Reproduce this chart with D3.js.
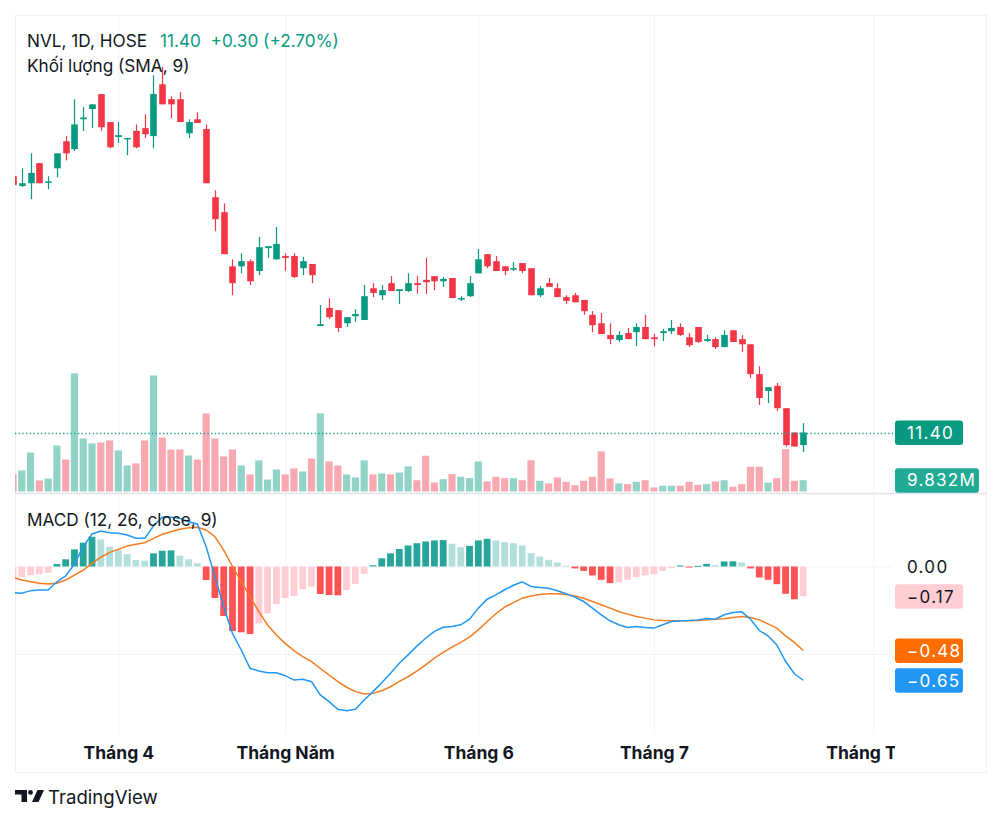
<!DOCTYPE html>
<html>
<head>
<meta charset="utf-8">
<script src="https://cdn.jsdelivr.net/npm/d3@7"></script>
<style>
  body { margin: 0; background: #fff; }
  svg { display: block; font-family: Inter, "Noto Sans", sans-serif; }
</style>
</head>
<body>
<svg id="chart" width="1000" height="824"></svg>
<script>
// NVL daily bars (prices in thousand VND, volume in millions)
const open  = [16.89,16.68,16.74,17.17,16.76,17.06,17.64,17.47,18.11,18.33,18.65,18.05,17.73,17.68,17.86,17.92,17.75,18.86,18.54,18.54,
  17.81,18.11,17.90,16.44,16.12,14.96,14.96,15.07,14.86,15.35,15.11,15.18,15.18,14.92,15.01,13.68,14.07,14.02,13.74,13.89,
  13.81,14.49,14.34,14.60,14.43,14.43,14.60,14.67,14.75,14.64,14.71,14.26,14.32,14.81,15.22,15.07,14.96,14.90,15.03,14.92,
  14.34,14.60,14.49,14.30,14.34,14.24,13.92,13.74,13.49,13.38,13.53,13.55,13.66,13.44,13.53,13.57,13.66,13.44,13.66,13.36,
  13.40,13.23,13.59,13.40,13.29,12.65,12.29,12.40,11.92,11.40,11.13];
const high  = [16.92,17.06,17.38,17.17,16.89,17.38,17.75,18.54,18.37,18.43,18.65,18.05,18.05,17.71,18.00,18.22,19.05,19.23,18.60,18.69,
  18.11,18.26,18.00,16.59,16.31,15.11,15.24,15.11,15.59,15.39,15.80,15.24,15.24,15.16,15.01,14.13,14.28,14.02,13.87,14.04,
  14.56,14.60,14.56,14.75,14.47,14.81,14.75,15.14,14.75,14.73,14.71,14.32,14.75,15.33,15.22,15.18,14.96,15.05,15.03,14.92,
  14.54,14.71,14.60,14.34,14.39,14.24,14.00,13.96,13.74,13.57,13.64,13.74,13.92,13.51,13.62,13.81,13.74,13.53,13.66,13.49,
  13.44,13.59,13.59,13.49,13.29,12.82,12.37,12.46,11.92,11.40,11.60];
const low   = [16.68,16.66,16.40,16.74,16.61,16.87,17.23,17.43,17.86,17.92,17.86,17.49,17.60,17.34,17.49,17.71,17.49,18.43,18.13,18.05,
  17.71,18.03,16.74,15.71,15.22,14.34,14.81,14.56,14.77,15.14,15.11,14.86,14.71,14.77,14.60,13.68,13.83,13.55,13.66,13.77,
  13.81,14.30,14.24,14.43,14.15,14.41,14.37,14.37,14.45,14.52,14.28,14.22,14.30,14.81,14.92,14.86,14.77,14.86,14.81,14.34,
  14.30,14.52,14.30,14.15,14.19,13.92,13.55,13.51,13.29,13.34,13.40,13.25,13.40,13.25,13.36,13.51,13.47,13.23,13.32,13.34,
  13.19,13.23,13.34,13.12,12.57,11.99,12.03,11.86,11.10,11.10,10.98];
const close = [16.70,16.74,16.96,16.74,16.78,17.38,17.38,18.00,18.15,18.43,17.94,17.51,17.77,17.71,17.51,17.79,18.65,18.43,18.43,18.05,
  18.05,18.03,16.74,15.97,15.22,14.60,15.07,14.64,15.37,15.39,15.44,15.14,14.73,15.07,14.77,13.72,13.87,13.64,13.87,13.94,
  14.32,14.39,14.45,14.43,14.47,14.60,14.56,14.62,14.64,14.69,14.28,14.28,14.60,15.11,14.96,14.86,14.86,14.92,14.86,14.34,
  14.49,14.52,14.30,14.22,14.19,14.00,13.70,13.51,13.40,13.49,13.40,13.66,13.40,13.40,13.57,13.64,13.49,13.27,13.34,13.40,
  13.23,13.49,13.34,13.29,12.65,12.14,12.37,11.92,11.13,11.10,11.40];
const volume = [15.4,18.3,33.9,9.6,11.3,40.0,27.8,102.7,46.1,41.8,42.6,44.4,35.7,22.6,24.4,44.4,100.9,47.0,36.5,36.5,
  31.3,27.8,67.9,46.1,30.5,36.5,22.6,14.8,27.0,10.4,19.1,14.8,20.0,17.4,28.7,67.9,26.1,22.6,14.8,12.2,
  27.0,14.8,15.7,14.8,16.5,21.8,9.8,31.1,7.8,10.7,15.1,12.8,11.6,26.1,8.7,12.8,11.6,11.6,9.8,27.2,
  9.3,7.0,12.2,8.4,5.5,9.3,12.8,34.8,11.3,7.0,6.4,8.4,9.8,3.5,5.0,5.0,5.0,8.4,5.8,6.4,
  8.7,9.8,4.1,6.4,21.5,21.5,7.8,11.6,36.8,9.3,9.832];

// MACD (12, 26, close, 9)
const macdLine = [-0.150,-0.153,-0.138,-0.134,-0.134,-0.087,-0.054,0.014,0.113,0.186,0.203,0.193,0.190,0.180,0.161,0.161,0.231,0.281,0.281,0.275,
  0.256,0.243,0.113,-0.058,-0.230,-0.382,-0.477,-0.582,-0.597,-0.607,-0.607,-0.624,-0.649,-0.645,-0.658,-0.734,-0.772,-0.816,-0.824,-0.816,
  -0.763,-0.715,-0.664,-0.610,-0.553,-0.505,-0.455,-0.410,-0.371,-0.347,-0.343,-0.333,-0.301,-0.238,-0.187,-0.162,-0.133,-0.107,-0.088,-0.114,
  -0.120,-0.124,-0.139,-0.156,-0.175,-0.200,-0.238,-0.276,-0.310,-0.333,-0.349,-0.343,-0.349,-0.352,-0.333,-0.314,-0.310,-0.309,-0.305,-0.297,
  -0.301,-0.276,-0.263,-0.259,-0.301,-0.366,-0.396,-0.448,-0.543,-0.613,-0.650];
const signalLine = [-0.062,-0.077,-0.087,-0.096,-0.100,-0.096,-0.077,-0.049,-0.020,0.018,0.053,0.081,0.098,0.117,0.127,0.136,0.161,0.184,0.199,0.213,
  0.222,0.224,0.209,0.170,0.094,0.000,-0.087,-0.172,-0.258,-0.334,-0.391,-0.439,-0.481,-0.515,-0.544,-0.582,-0.620,-0.658,-0.690,-0.715,
  -0.729,-0.725,-0.710,-0.687,-0.656,-0.630,-0.598,-0.562,-0.524,-0.491,-0.461,-0.434,-0.404,-0.362,-0.314,-0.270,-0.232,-0.206,-0.181,-0.168,
  -0.160,-0.156,-0.156,-0.160,-0.168,-0.181,-0.200,-0.219,-0.238,-0.257,-0.272,-0.286,-0.295,-0.305,-0.309,-0.310,-0.310,-0.310,-0.309,-0.305,
  -0.301,-0.299,-0.291,-0.286,-0.291,-0.305,-0.328,-0.352,-0.396,-0.434,-0.480];
const histogram = [-0.090,-0.060,-0.050,-0.044,-0.036,0.014,0.041,0.098,0.136,0.170,0.155,0.113,0.094,0.070,0.037,0.033,0.075,0.090,0.092,0.062,
  0.041,0.018,-0.077,-0.180,-0.283,-0.369,-0.376,-0.386,-0.325,-0.268,-0.214,-0.180,-0.169,-0.130,-0.115,-0.157,-0.163,-0.165,-0.134,-0.100,
  -0.043,0.007,0.047,0.075,0.100,0.120,0.133,0.143,0.149,0.151,0.130,0.110,0.118,0.149,0.158,0.149,0.139,0.133,0.120,0.076,
  0.057,0.038,0.023,0.004,-0.011,-0.025,-0.051,-0.076,-0.095,-0.090,-0.076,-0.061,-0.051,-0.044,-0.025,-0.010,0.006,-0.004,0.004,0.015,
  0.008,0.029,0.030,0.023,-0.011,-0.063,-0.076,-0.101,-0.156,-0.187,-0.170];

// time axis: bar index of the first session of each month
const monthLabels = ['Tháng 4', 'Tháng Năm', 'Tháng 6', 'Tháng 7', 'Tháng Tám'];
const monthIdx = [12, 31, 53, 73, 98];

const UP = '#089981', DOWN = '#f23645';
const TEXT = '#131722', GRID = '#f0f3fa', BORDER = '#e0e3eb';

const svg = d3.select('#chart');
const plotL = 15, plotR = 893, chartR = 986;
const paneTop = 15, split = 493, macdBottom = 735, chartBottom = 772;

// scales
const x = d3.scaleLinear().domain([0, 98]).range([13, 873.4]);
const y = d3.scaleLinear().domain([11.40, 19.23]).range([432.5, 67]);
const yVol = d3.scaleLinear().domain([0, 100]).range([491.5, 376.5]);
const yMacd = d3.scaleLinear().domain([0, -0.5]).range([566.5, 654]);

const defs = svg.append('defs');
defs.append('clipPath').attr('id', 'clipMain')
  .append('rect').attr('x', plotL).attr('y', paneTop).attr('width', plotR - plotL).attr('height', split - paneTop);
defs.append('clipPath').attr('id', 'clipMacd')
  .append('rect').attr('x', plotL).attr('y', split + 1).attr('width', plotR - plotL).attr('height', macdBottom - split - 1);
defs.append('clipPath').attr('id', 'clipTime')
  .append('rect').attr('x', plotL).attr('y', macdBottom).attr('width', plotR - plotL + 2).attr('height', chartBottom - macdBottom);

svg.append('rect').attr('width', 1000).attr('height', 824).attr('fill', '#fff');

// grids
const vgrid = svg.append('g')
  .attr('transform', `translate(0, ${macdBottom})`)
  .call(d3.axisBottom(x).tickValues(monthIdx).tickSize(-(macdBottom - paneTop)).tickFormat(''));
vgrid.select('.domain').remove();
vgrid.selectAll('line').attr('stroke', GRID);

const hgrid = svg.append('g')
  .attr('transform', `translate(${plotL}, 0)`)
  .call(d3.axisRight(yMacd).tickValues([0, -0.5]).tickSize(plotR - plotL).tickFormat(''));
hgrid.select('.domain').remove();
hgrid.selectAll('line').attr('stroke', GRID);

// frame + pane separator
svg.append('rect')
  .attr('x', plotL + 0.5).attr('y', paneTop + 0.5)
  .attr('width', chartR - plotL).attr('height', chartBottom - paneTop)
  .attr('fill', 'none').attr('stroke', '#eef0f4');
svg.append('line')
  .attr('x1', plotL).attr('x2', chartR).attr('y1', split + 0.5).attr('y2', split + 0.5)
  .attr('stroke', BORDER).attr('stroke-width', 1.5);

const bars = d3.range(close.length);
const isUp = i => close[i] >= open[i];

// volume
const main = svg.append('g').attr('clip-path', 'url(#clipMain)');
main.selectAll('rect.vol')
  .data(bars)
  .join('rect')
  .attr('class', 'vol')
  .attr('x', i => x(i) - 3.6)
  .attr('width', 7.2)
  .attr('y', i => yVol(volume[i]))
  .attr('height', i => yVol(0) - yVol(volume[i]))
  .attr('fill', i => isUp(i) ? '#92d3c8' : '#f8a8b1');

// candles
const candle = main.selectAll('g.candle')
  .data(bars)
  .join('g')
  .attr('class', 'candle');

candle.append('line')
  .attr('x1', i => Math.round(x(i)) + 0.5)
  .attr('x2', i => Math.round(x(i)) + 0.5)
  .attr('y1', i => y(high[i]))
  .attr('y2', i => y(low[i]))
  .attr('stroke', i => isUp(i) ? UP : DOWN)
  .attr('stroke-width', 1.2);

candle.append('rect')
  .attr('x', i => Math.round(x(i)) + 0.5 - 3.3)
  .attr('width', 6.6)
  .attr('y', i => y(Math.max(open[i], close[i])))
  .attr('height', i => Math.max(1.5, Math.abs(y(open[i]) - y(close[i]))))
  .attr('fill', i => isUp(i) ? UP : DOWN);

// last price line
const last = close.length - 1;
svg.append('line')
  .attr('x1', plotL).attr('x2', plotR)
  .attr('y1', Math.round(y(close[last])) + 0.5).attr('y2', Math.round(y(close[last])) + 0.5)
  .attr('stroke', '#1a9e88').attr('stroke-width', 1.3).attr('stroke-dasharray', '1.3,2.4');

// MACD pane
const macdG = svg.append('g').attr('clip-path', 'url(#clipMacd)');
const histColor = i => {
  const prev = i > 0 ? histogram[i - 1] : -0.12;
  const h = histogram[i];
  if (h >= 0) return h > prev ? '#26a69a' : '#b2dfdb';
  return h < prev ? '#ff5252' : '#ffcdd2';
};
macdG.selectAll('rect.hist')
  .data(bars)
  .join('rect')
  .attr('class', 'hist')
  .attr('x', i => x(i) - 3.4)
  .attr('width', 6.8)
  .attr('y', i => Math.min(yMacd(0), yMacd(histogram[i])))
  .attr('height', i => Math.max(1, Math.abs(yMacd(histogram[i]) - yMacd(0))))
  .attr('fill', histColor);

const lineGen = arr => d3.line().x(i => x(i)).y(i => yMacd(arr[i]))(bars);
macdG.append('path').attr('d', lineGen(signalLine))
  .attr('fill', 'none').attr('stroke', '#f57c1f').attr('stroke-width', 1.5);
macdG.append('path').attr('d', lineGen(macdLine))
  .attr('fill', 'none').attr('stroke', '#2196f3').attr('stroke-width', 1.5);

// time axis (clip on an outer group so it stays in page coordinates)
const tAxis = svg.append('g')
  .attr('clip-path', 'url(#clipTime)')
  .append('g')
  .attr('transform', 'translate(0, 746.5)')
  .call(d3.axisBottom(x).tickValues(monthIdx).tickSize(0).tickPadding(0)
    .tickFormat((d, i) => monthLabels[i]));
tAxis.select('.domain').remove();
tAxis.attr('font-family', null).attr('font-size', null);
tAxis.selectAll('text')
  .attr('font-size', 17.5).attr('font-weight', 700).attr('fill', TEXT);

// price-scale labels
function scaleLabel(yc, txt, bg, fg, w) {
  const g = svg.append('g');
  if (bg) {
    g.append('rect').attr('x', 895).attr('y', yc - 12).attr('width', w).attr('height', 24.5)
      .attr('rx', 3).attr('fill', bg);
  }
  g.append('text').attr('x', 907).attr('y', yc).attr('dy', '0.37em')
    .attr('font-size', 17).attr('letter-spacing', 1.3).attr('fill', fg).text(txt);
}
const fmt = v => (v < 0 ? '\u2212' : '') + Math.abs(v).toFixed(2);
scaleLabel(y(close[last]), close[last].toFixed(2), UP, '#fff', 68);
scaleLabel(yVol(volume[last]), volume[last].toFixed(3) + 'M', '#22ab94', '#fff', 84);
scaleLabel(yMacd(0), fmt(0), null, TEXT, 68);
scaleLabel(yMacd(histogram[last]), fmt(histogram[last]), '#ffcdd2', TEXT, 68);
scaleLabel(yMacd(signalLine[last]), fmt(signalLine[last]), '#ff6d00', '#fff', 68);
scaleLabel(yMacd(macdLine[last]), fmt(macdLine[last]), '#2196f3', '#fff', 68);

// legends
const chg = close[last] - close[last - 1];
const legend = svg.append('text').attr('x', 27).attr('y', 47).attr('font-size', 17.2).attr('fill', TEXT)
  .attr('xml:space', 'preserve');
legend.append('tspan').text('NVL, 1D, HOSE');
legend.append('tspan').attr('x', 160).attr('fill', UP)
  .text(`${close[last].toFixed(2)}  +${chg.toFixed(2)} (+${(chg / close[last - 1] * 100).toFixed(2)}%)`);
svg.append('text').attr('x', 27).attr('y', 72).attr('font-size', 17.2).attr('fill', TEXT)
  .text('Khối lượng (SMA, 9)');
svg.append('text').attr('x', 27).attr('y', 526).attr('font-size', 17.2).attr('fill', TEXT)
  .text('MACD (12, 26, close, 9)');

// TradingView mark
const logo = svg.append('g').attr('fill', TEXT);
logo.append('path').attr('d', 'M15,790 H27 V802 H21.5 V794.6 H15 Z');
logo.append('circle').attr('cx', 30.5).attr('cy', 792.4).attr('r', 2.4);
logo.append('path').attr('d', 'M37.5,790 H44 L38.5,802 H32 Z');
svg.append('text').attr('x', 48).attr('y', 804).attr('font-size', 18.6).attr('fill', TEXT)
  .text('TradingView');
</script>
</body>
</html>
